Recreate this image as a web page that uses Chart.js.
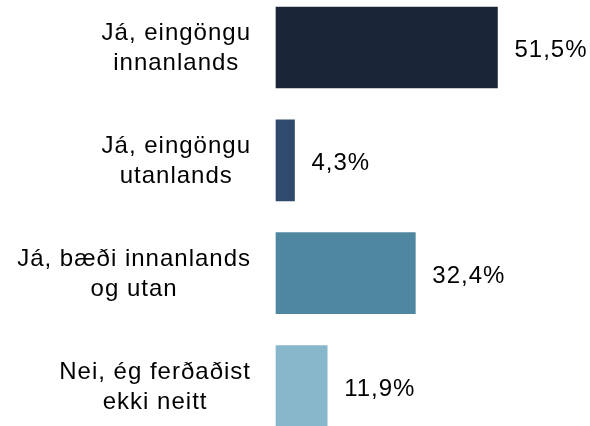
<!DOCTYPE html>
<html>
<head>
<meta charset="utf-8">
<script src="https://cdn.jsdelivr.net/npm/chart.js@4"></script>
<style>
    html, body { margin: 0; padding: 0; background: #fff; }
    #wrap { width: 590px; height: 426px; }
</style>
</head>
<body>
<div id="wrap"><canvas id="bars"></canvas></div>
<script>
const categories = [
    ['Já, eingöngu', 'innanlands'],
    ['Já, eingöngu', 'utanlands'],
    ['Já, bæði innanlands', 'og utan'],
    ['Nei, ég ferðaðist', 'ekki neitt']
];
const values = [51.5, 4.3, 32.4, 11.9];
const valueLabels = ['51,5%', '4,3%', '32,4%', '11,9%'];
const colors = ['#1a2637', '#304a6e', '#4f87a0', '#88b6cb'];

const FONT = '24px "Liberation Sans", Arial, sans-serif';

// Draw the category names (centered per label, right aligned as a block) and the value labels
const labelPlugin = {
    id: 'labelPlugin',
    afterDatasetsDraw(chart) {
        const ctx = chart.ctx;
        const yScale = chart.scales.y;
        const meta = chart.getDatasetMeta(0);
        ctx.save();
        ctx.font = FONT;
        ctx.fillStyle = '#000';
        ctx.textBaseline = 'middle';
        if ('letterSpacing' in ctx) ctx.letterSpacing = '1px';

        const right = chart.chartArea.left - 25;
        categories.forEach((lines, i) => {
            const y = yScale.getPixelForValue(i) + 1;
            const widest = Math.max(...lines.map(l => ctx.measureText(l).width));
            const cx = right - widest / 2;
            ctx.textAlign = 'center';
            lines.forEach((line, j) => {
                ctx.fillText(line, cx, y + (j - (lines.length - 1) / 2) * 30);
            });
        });

        ctx.textAlign = 'left';
        meta.data.forEach((bar, i) => {
            ctx.fillText(valueLabels[i], bar.x + 17, bar.y + 3);
        });
        ctx.restore();
    }
};

const ctx = document.getElementById('bars').getContext('2d');

new Chart(ctx, {
    type: 'bar',
    data: {
        labels: categories,
        datasets: [
            {
                data: values,
                backgroundColor: colors,
                barThickness: 81,
                borderWidth: 0,
                clip: false
            }
        ]
    },
    options: {
        indexAxis: 'y',
        responsive: true,
        maintainAspectRatio: false,
        animation: false,
        layout: {
            padding: { left: 276, right: 13, top: 47.5, bottom: 40 }
        },
        scales: {
            x: { display: false, min: 0, max: 70 },
            y: { display: false, offset: false, grid: { display: false } }
        },
        plugins: {
            legend: { display: false },
            tooltip: { enabled: false }
        }
    },
    plugins: [labelPlugin]
});
</script>
</body>
</html>
